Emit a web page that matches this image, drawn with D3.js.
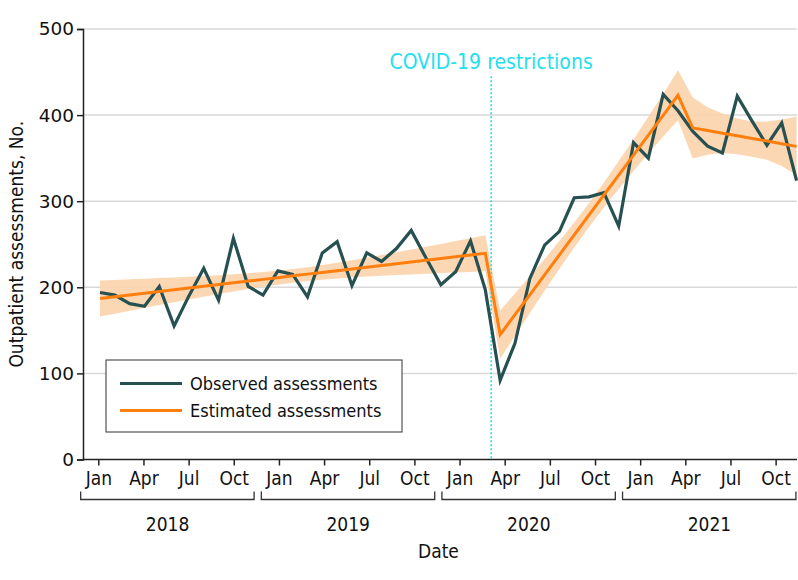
<!DOCTYPE html>
<html><head><meta charset="utf-8">
<script src="https://cdn.jsdelivr.net/npm/d3@7"></script>
<style>body{margin:0;background:#fff}</style>
</head><body><svg id="c" width="798" height="580"></svg>
<script>
// Monthly data, Jan 2018 .. Dec 2021 (index 0..47)
const observed = [194,191,181,178,201,155,190,222,185,257,201,191,
                  219,215,189,240,253,202,240,230,245,266,234,203,
                  218,254,197,92,135,210,249,265,304,305,310,271,
                  368,350,424,405,381,364,356,422,393,365,391,324];
const estimated = [187.0,189.0,191.0,193.1,195.1,197.1,199.1,201.1,203.2,205.2,207.2,209.2,
                   211.2,213.3,215.3,217.3,219.3,221.3,223.4,225.4,227.4,229.4,231.4,233.5,
                   235.5,237.5,239.5,145.0,168.2,191.3,214.5,237.7,260.8,284.0,307.2,330.4,
                   353.5,376.7,399.8,423.0,385.0,382.0,378.9,375.9,372.8,369.8,366.8,363.7];
const lower = [166.0,169.4,172.7,176.2,179.5,182.7,185.9,189.1,192.3,195.2,198.0,200.7,
               203.1,205.3,207.2,208.8,210.1,211.3,212.5,213.4,214.2,215.0,215.8,216.6,
               217.2,217.9,218.5,117.0,143.6,169.9,196.0,221.5,246.2,270.0,292.6,314.2,
               335.0,355.3,375.2,394.0,349.5,354.0,356.0,354.5,351.5,348.0,341.0,330.0];
const upper = [208.0,208.6,209.3,210.0,210.7,211.5,212.3,213.1,214.1,215.2,216.4,217.7,
               219.3,221.3,223.4,225.8,228.5,231.3,234.3,237.4,240.6,243.8,247.0,250.4,
               253.8,257.1,260.5,173.0,192.8,212.7,233.0,253.9,275.4,298.0,321.8,346.6,
               372.0,398.1,424.4,452.0,420.5,409.0,402.0,396.0,392.5,392.5,395.0,398.0];
const monthLabels = ["Jan","Apr","Jul","Oct"];
const monthOffsets = [0,3,6,9];
const years = ["2018","2019","2020","2021"];
const yTicks = [0,100,200,300,400,500];
const covidMonth = 26.1;
const covidLabel = "COVID-19 restrictions";
const seriesNames = ["Observed assessments","Estimated assessments"];
const colors = {obs:"#275050", est:"#ff7f0e", band:"#fcd3ab", covid:"#22dff0"};

const svg = d3.select("#c");
const m = {left:83, top:29, right:1, bottom:120.5};
const W = 798 - m.left - m.right, H = 580 - m.top - m.bottom;
const g = svg.append("g").attr("transform",`translate(${m.left},${m.top})`);

const y = d3.scaleLinear().domain([0,500]).range([H,0]);
const xData = d3.scaleLinear().domain([-1.147, 47.03]).range([0,W]);
const xTick = d3.scaleLinear().domain([-1.017, 46.42]).range([0,W]);
const cond = "'DejaVu Sans Condensed','DejaVu Sans',sans-serif";

// gridlines
g.append("g").selectAll("line").data(yTicks.filter(d=>d>0)).join("line")
  .attr("x1",0).attr("x2",W).attr("y1",d=>y(d)).attr("y2",d=>y(d))
  .attr("stroke","#d9d9d9").attr("stroke-width",1.5);

// band
const idx = d3.range(observed.length);
g.append("path").datum(idx)
  .attr("d", d3.area().x(i=>xData(i)).y0(i=>y(lower[i])).y1(i=>y(upper[i])))
  .attr("fill", colors.band).attr("opacity",0.9);

// covid line
g.append("line").attr("x1",xTick(covidMonth)).attr("x2",xTick(covidMonth))
  .attr("y1",y(445)).attr("y2",H)
  .attr("stroke",colors.covid).attr("stroke-width",1.6).attr("stroke-dasharray","2,2");
g.append("text").attr("x",xTick(covidMonth)).attr("y",y(453))
  .attr("text-anchor","middle").attr("font-family",cond).attr("font-size",21)
  .attr("fill",colors.covid).text(covidLabel);

// lines
g.append("path").datum(idx)
  .attr("d", d3.line().x(i=>xData(i)).y(i=>y(observed[i])))
  .attr("fill","none").attr("stroke",colors.obs).attr("stroke-width",3.2).attr("stroke-linejoin","miter");
g.append("path").datum(idx)
  .attr("d", d3.line().x(i=>xData(i)).y(i=>y(estimated[i])))
  .attr("fill","none").attr("stroke",colors.est).attr("stroke-width",3);

// y axis
const ya = g.append("g").call(d3.axisLeft(y).tickValues(yTicks).tickSize(6).tickPadding(3));
ya.select(".domain").attr("stroke","#222").attr("stroke-width",1.5);
ya.selectAll(".tick line").attr("stroke","#222").attr("stroke-width",1.5);
ya.selectAll("text").attr("font-family","'DejaVu Sans',sans-serif").attr("font-size",18.5).attr("fill","#111");

// x axis
const tickVals = [];
years.forEach((yr,k)=>monthOffsets.forEach((o,j)=>tickVals.push({v:12*k+o,l:monthLabels[j]})));
const xa = g.append("g").attr("transform",`translate(0,${H})`)
  .call(d3.axisBottom(xTick).tickValues(tickVals.map(d=>d.v)).tickSize(6).tickPadding(6)
        .tickFormat((d,i)=>tickVals[i].l));
xa.select(".domain").attr("stroke","#222").attr("stroke-width",1.5).attr("d",`M0,0H${W}`);
xa.selectAll(".tick line").attr("stroke","#222").attr("stroke-width",1.5);
xa.selectAll("text").attr("font-family",cond).attr("font-size",19).attr("fill","#111");

// year brackets
const br = g.append("g").attr("transform",`translate(0,${H})`);
years.forEach((yr,k)=>{
  const x0 = xTick(12*k-1.17), x1 = xTick(12*k+10.35);
  br.append("path").attr("d",`M${x0},32V40H${x1}V32`).attr("fill","none")
    .attr("stroke","#333").attr("stroke-width",1.3);
  br.append("text").attr("x",xTick(12*k+4.6)).attr("y",71).attr("text-anchor","middle")
    .attr("font-family",cond).attr("font-size",19).attr("fill","#111").text(yr);
});
svg.append("text").attr("x",m.left+xTick(22.6)).attr("y",558).attr("text-anchor","middle")
  .attr("font-family",cond).attr("font-size",19).attr("fill","#111").text("Date");

// y label
svg.append("text").attr("transform",`translate(23,${m.top+y(250)}) rotate(-90)`)
  .attr("text-anchor","middle").attr("font-family",cond).attr("font-size",19)
  .attr("fill","#111").text("Outpatient assessments, No.");

// legend
const lg = svg.append("g").attr("transform","translate(106,360)");
lg.append("rect").attr("width",296).attr("height",72).attr("fill","#fff")
  .attr("stroke","#333").attr("stroke-width",1);
[colors.obs, colors.est].forEach((c,i)=>{
  const yy = 23.5 + i*27;
  lg.append("line").attr("x1",14).attr("x2",76).attr("y1",yy).attr("y2",yy)
    .attr("stroke",c).attr("stroke-width",3);
  lg.append("text").attr("x",84).attr("y",yy).attr("dy","0.35em")
    .attr("font-family",cond).attr("font-size",18).attr("fill","#111").text(seriesNames[i]);
});
</script></body></html>
